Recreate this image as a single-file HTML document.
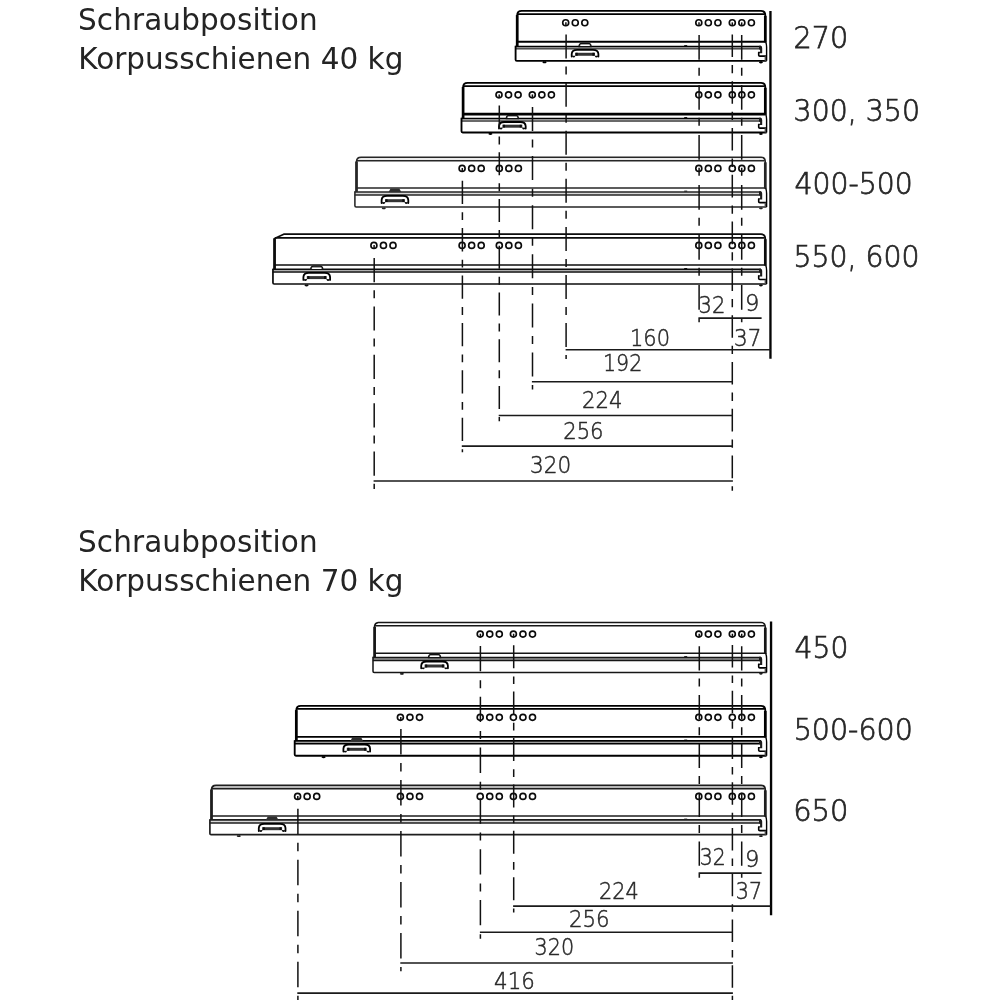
<!DOCTYPE html>
<html lang="de">
<head>
<meta charset="utf-8">
<title>Schraubposition Korpusschienen</title>
<style>
html,body{margin:0;padding:0;background:#fff;}
body{width:1000px;height:1000px;overflow:hidden;}
svg{display:block;will-change:transform;filter:grayscale(1);}
.o{fill:none;stroke-linejoin:round;}
.ot{fill:none;stroke-width:2.7;}
.i{fill:none;}
.i2{fill:none;stroke:#333;stroke-width:1;}
.h{fill:none;stroke:#000;stroke-width:1.6;stroke-linejoin:round;}
.h2{fill:none;stroke:#444;stroke-width:1.6;}
.lt{fill:none;stroke:#111;stroke-width:1.1;}
.la{fill:#fff;stroke:#000;stroke-width:1.8;stroke-linejoin:round;stroke-linecap:round;}
.c{fill:#fff;stroke:#0a0a0a;stroke-width:1.65;}
.ct{fill:none;stroke:#111;stroke-width:1.5;}
.d{fill:none;stroke:#111;stroke-width:1.5;}
.m{fill:none;stroke:#1a1a1a;stroke-width:1.55;}
.v{fill:none;stroke:#050505;stroke-width:2.35;}
.t{font-family:"DejaVu Sans","Liberation Sans",sans-serif;font-size:29.5px;fill:#242424;}
.l{font-family:"DejaVu Sans Light","DejaVu Sans","Liberation Sans",sans-serif;font-weight:200;font-size:30.6px;fill:#262626;stroke:#262626;stroke-width:0.75;}
.n{font-family:"DejaVu Sans Light","DejaVu Sans","Liberation Sans",sans-serif;font-weight:200;font-size:22.2px;fill:#2a2a2a;stroke:#2a2a2a;stroke-width:0.5;}
</style>
</head>
<body>
<svg width="1000" height="1000" viewBox="0 0 1000 1000">
<rect width="1000" height="1000" fill="#fff"/>

<text class="t" x="78.0" y="29.6" textLength="239.6" lengthAdjust="spacing">Schraubposition</text>
<text class="t" x="78.3" y="68.8" textLength="325.1" lengthAdjust="spacing">Korpusschienen 40 kg</text>
<text class="t" x="78.0" y="551.8" textLength="239.6" lengthAdjust="spacing">Schraubposition</text>
<text class="t" x="78.3" y="591.2" textLength="325.1" lengthAdjust="spacing">Korpusschienen 70 kg</text>
<g id="r270" stroke="#000" stroke-width="1.85">
<path class="o" d="M517.2,46.47 V15.27 Q517.2,10.87 521.8,10.87 H761.1 Q765.3,10.87 765.3,15.47 V41.77"/>
<path class="ot" d="M517.2,15.07 V46.47"/>
<path class="ot" d="M765.3,15.87 V42.37"/>
<path class="i" d="M517.7,14.07 H764.8"/>
<path class="i" d="M517.2,41.77 H765.3"/>
<rect x="515.6" y="46.47" width="245.6" height="2.5" fill="#8c8c8c" stroke="none"/>
<path class="i" d="M515.4,46.47 H761" style="stroke-width:1.3"/>
<path class="i" d="M515.4,48.97 H760.8" style="stroke-width:1.2;stroke:#3a3a3a"/>
<path class="o" d="M515.6,45.87 V59.67 Q515.6,60.87 516.8,60.87 H766.6"/>
<path d="M759,45.87 H760.5 Q762.2,45.87 762.2,47.97 V53.17 H758 V51.87 H760.1 V49.57 H759z" fill="#1c1c1c" stroke="none"/>
<path class="h" d="M758.7,52.27 V55.27 Q758.7,56.17 759.9,56.17 H766.2"/>
<rect x="764.6" y="56.27" width="2" height="4.6" fill="#555" stroke="none"/>
<path class="h" d="M765.7,41.77 Q766.6,44.27 766.6,47.27 V60.87" style="stroke-width:1.4"/>
<path class="o" d="M759.5,61.77 q1.4,1.3 2.9,0"/>
<path class="o" d="M542.9,61.77 q1.6,1.3 3.2,0"/>
<path class="i" d="M684.2,45.77 h3" style="stroke-width:1.2"/>
<path d="M578.95,46.67 q0,-3.3 3,-3.3 h6.2 q3,0 3,3.3z" fill="#4c4c4c" stroke="#111" stroke-width="1.2"/>
<rect x="580.15" y="44.57" width="9.8" height="1.5" rx="0.7" fill="#fff" stroke="none"/>
<path d="M579.05,49.47 Q585.05,53.17 591.05,49.47z" fill="#1a1a1a" stroke="none"/>
<path class="la" d="M571.7,56.57 V54.07 Q571.9,49.87 577.1,49.87 H593 Q598.2,49.87 598.4,54.07 V56.57"/>
<rect x="575.1" y="52.77" width="19.9" height="3" fill="#333" stroke="none"/>
<path d="M571.9,55.87 q0.2,1.7 1.7,1.7 q1.3,0 1.7,-1.5 l0.4,-0.9 v-2.4 h2 v2.9 h-2.4z M598.2,55.87 q-0.2,1.7 -1.7,1.7 q-1.3,0 -1.7,-1.5 l-0.4,-0.9 v-2.4 h-2 v2.9 h2.4z" fill="#0a0a0a" stroke="none"/>
<circle class="c" cx="565.7" cy="22.77" r="3.0"/>
<circle class="c" cx="575.25" cy="22.77" r="3.0"/>
<circle class="c" cx="584.8" cy="22.77" r="3.0"/>
<circle class="c" cx="698.8" cy="22.77" r="3.0"/>
<circle class="c" cx="708.35" cy="22.77" r="3.0"/>
<circle class="c" cx="717.9" cy="22.77" r="3.0"/>
<circle class="c" cx="732.3" cy="22.77" r="3.0"/>
<circle class="c" cx="741.85" cy="22.77" r="3.0"/>
<circle class="c" cx="751.4" cy="22.77" r="3.0"/>
<path class="ct" d="M565.9,22.37 V25.57"/>
<path class="ct" d="M699,22.37 V25.57"/>
<path class="ct" d="M732.3,22.37 V25.57"/>
<path class="ct" d="M741.7,22.37 V25.57"/>
</g>
<g id="r300" stroke="#000" stroke-width="1.85">
<path class="o" d="M463.1,118.4 V87.2 Q463.1,82.8 467.7,82.8 H761.1 Q765.3,82.8 765.3,87.4 V114.1"/>
<path class="ot" d="M463.1,87 V118.4"/>
<path class="ot" d="M765.3,87.8 V114.7"/>
<path class="i" d="M463.6,86.05 H764.8"/>
<path class="i" d="M463.1,114.1 H765.3" style="stroke-width:2.9"/>
<rect x="461.5" y="118.4" width="299.7" height="2.7" fill="#9a9a9a" stroke="none"/>
<path class="i" d="M461.3,118.4 H761" style="stroke-width:1.3"/>
<path class="i" d="M461.3,121.1 H760.8" style="stroke-width:1.2;stroke:#3a3a3a"/>
<path class="o" d="M461.5,117.8 V131.3 Q461.5,132.5 462.7,132.5 H766.6"/>
<path d="M759,117.8 H760.5 Q762.2,117.8 762.2,119.9 V125.1 H758 V123.8 H760.1 V121.7 H759z" fill="#1c1c1c" stroke="none"/>
<path class="h" d="M758.7,124.2 V127.2 Q758.7,128.1 759.9,128.1 H766.2"/>
<rect x="764.6" y="128.2" width="2" height="4.3" fill="#555" stroke="none"/>
<path class="h" d="M765.7,114.1 Q766.6,116.6 766.6,119.6 V132.5" style="stroke-width:1.4"/>
<path class="o" d="M759.5,133.4 q1.4,1.3 2.9,0"/>
<path class="o" d="M488.8,133.4 q1.6,1.3 3.2,0"/>
<path class="i" d="M684.2,117.7 h3" style="stroke-width:1.2"/>
<path d="M506.25,118.6 q0,-3.3 3,-3.3 h6.2 q3,0 3,3.3z" fill="#4c4c4c" stroke="#111" stroke-width="1.2"/>
<rect x="507.45" y="116.5" width="9.8" height="1.5" rx="0.7" fill="#fff" stroke="none"/>
<path d="M506.35,121.6 Q512.35,125.3 518.35,121.6z" fill="#1a1a1a" stroke="none"/>
<path class="la" d="M499,128.5 V126.2 Q499.2,122 504.4,122 H520.3 Q525.5,122 525.7,126.2 V128.5"/>
<rect x="502.4" y="124.7" width="19.9" height="3" fill="#333" stroke="none"/>
<path d="M499.2,127.8 q0.2,1.7 1.7,1.7 q1.3,0 1.7,-1.5 l0.4,-0.9 v-2.4 h2 v2.9 h-2.4z M525.5,127.8 q-0.2,1.7 -1.7,1.7 q-1.3,0 -1.7,-1.5 l-0.4,-0.9 v-2.4 h-2 v2.9 h2.4z" fill="#0a0a0a" stroke="none"/>
<circle class="c" cx="499" cy="94.8" r="3.0"/>
<circle class="c" cx="508.55" cy="94.8" r="3.0"/>
<circle class="c" cx="518.1" cy="94.8" r="3.0"/>
<circle class="c" cx="532.3" cy="94.8" r="3.0"/>
<circle class="c" cx="541.85" cy="94.8" r="3.0"/>
<circle class="c" cx="551.4" cy="94.8" r="3.0"/>
<circle class="c" cx="698.8" cy="94.8" r="3.0"/>
<circle class="c" cx="708.35" cy="94.8" r="3.0"/>
<circle class="c" cx="717.9" cy="94.8" r="3.0"/>
<circle class="c" cx="732.3" cy="94.8" r="3.0"/>
<circle class="c" cx="741.85" cy="94.8" r="3.0"/>
<circle class="c" cx="751.4" cy="94.8" r="3.0"/>
<path class="ct" d="M499.2,94.4 V97.6"/>
<path class="ct" d="M532.4,94.4 V97.6"/>
</g>
<g id="r400" stroke="#262626" stroke-width="1.55">
<path d="M357.5,159 H764.3" stroke="#e4e4e4" stroke-width="1.6" fill="none"/>
<path class="o" d="M356.5,191.9 V161.7 Q356.5,157.3 361.1,157.3 H761.1 Q765.3,157.3 765.3,161.9 V188"/>
<path class="ot" d="M356.5,161.5 V191.9"/>
<path class="ot" d="M765.3,162.3 V188.6"/>
<path class="i" d="M357,160.7 H764.8"/>
<path class="i" d="M356.5,188 H765.3"/>
<rect x="354.9" y="191.9" width="406.3" height="3.1" fill="#d8d8d8" stroke="none"/>
<path class="i" d="M354.7,191.9 H761"/>
<path class="i" d="M354.7,195 H760.8"/>
<path class="o" d="M354.9,191.3 V205.8 Q354.9,207 356.1,207 H766.6"/>
<path d="M759,191.3 H760.5 Q762.2,191.3 762.2,193.4 V199.6 H758 V198.3 H760.1 V195.6 H759z" fill="#1c1c1c" stroke="none"/>
<path class="h" d="M758.7,198.7 V201.7 Q758.7,202.6 759.9,202.6 H766.2"/>
<rect x="764.6" y="202.7" width="2" height="4.3" fill="#555" stroke="none"/>
<path class="h" d="M765.7,188 Q766.6,190.5 766.6,193.5 V207" style="stroke-width:1.4"/>
<path class="o" d="M759.5,207.9 q1.4,1.3 2.9,0"/>
<path class="o" d="M382.2,207.9 q1.6,1.3 3.2,0"/>
<path class="i" d="M684.2,191.2 h3" style="stroke-width:1.2"/>
<path d="M388.65,191.9 L390.55,188.5 H399.35 L401.25,191.9z" fill="#2e2e2e" stroke="none"/>
<path d="M388.95,195.5 Q394.95,199.2 400.95,195.5z" fill="#1a1a1a" stroke="none"/>
<path class="la" d="M381.6,203 V200.1 Q381.8,195.9 387,195.9 H402.9 Q408.1,195.9 408.3,200.1 V203"/>
<rect x="385" y="199.2" width="19.9" height="3" fill="#333" stroke="none"/>
<path d="M381.8,202.3 q0.2,1.7 1.7,1.7 q1.3,0 1.7,-1.5 l0.4,-0.9 v-2.4 h2 v2.9 h-2.4z M408.1,202.3 q-0.2,1.7 -1.7,1.7 q-1.3,0 -1.7,-1.5 l-0.4,-0.9 v-2.4 h-2 v2.9 h2.4z" fill="#0a0a0a" stroke="none"/>
<circle class="c" cx="462.1" cy="168.4" r="3.0"/>
<circle class="c" cx="471.65" cy="168.4" r="3.0"/>
<circle class="c" cx="481.2" cy="168.4" r="3.0"/>
<circle class="c" cx="499.3" cy="168.4" r="3.0"/>
<circle class="c" cx="508.85" cy="168.4" r="3.0"/>
<circle class="c" cx="518.4" cy="168.4" r="3.0"/>
<circle class="c" cx="698.8" cy="168.4" r="3.0"/>
<circle class="c" cx="708.35" cy="168.4" r="3.0"/>
<circle class="c" cx="717.9" cy="168.4" r="3.0"/>
<circle class="c" cx="732.3" cy="168.4" r="3.0"/>
<circle class="c" cx="741.85" cy="168.4" r="3.0"/>
<circle class="c" cx="751.4" cy="168.4" r="3.0"/>
<path class="ct" d="M462.3,168 V171.2"/>
</g>
<g id="r550" stroke="#0c0c0c" stroke-width="1.72">
<path class="o" d="M274.55,269.3 V238.5 L283.75,234.2 H761.1 Q765.3,234.2 765.3,238.8 V265"/>
<path class="ot" d="M274.55,238.4 V269.3"/>
<path class="ot" d="M765.3,239.2 V265.6"/>
<path class="i" d="M275.05,237.9 H764.8"/>
<path class="i" d="M274.55,265 H765.3"/>
<rect x="272.95" y="269.3" width="488.25" height="2.7" fill="#e4e4e4" stroke="none"/>
<path class="i" d="M272.75,269.3 H761"/>
<path class="i" d="M272.75,272 H760.8"/>
<path class="o" d="M272.95,268.7 V282.8 Q272.95,284 274.15,284 H766.6"/>
<path d="M759,268.7 H760.5 Q762.2,268.7 762.2,270.8 V276.5 H758 V275.2 H760.1 V272.6 H759z" fill="#1c1c1c" stroke="none"/>
<path class="h" d="M758.7,275.6 V278.6 Q758.7,279.5 759.9,279.5 H766.2"/>
<rect x="764.6" y="279.6" width="2" height="4.4" fill="#555" stroke="none"/>
<path class="h" d="M765.7,265 Q766.6,267.5 766.6,270.5 V284" style="stroke-width:1.4"/>
<path class="o" d="M759.5,284.9 q1.4,1.3 2.9,0"/>
<path class="o" d="M304.95,284.9 q1.6,1.3 3.2,0"/>
<path class="i" d="M684.2,268.6 h3" style="stroke-width:1.2"/>
<path d="M310.65,269.5 q0,-3.3 3,-3.3 h6.2 q3,0 3,3.3z" fill="#4c4c4c" stroke="#111" stroke-width="1.2"/>
<rect x="311.85" y="267.4" width="9.8" height="1.5" rx="0.7" fill="#fff" stroke="none"/>
<path d="M310.75,272.5 Q316.75,276.2 322.75,272.5z" fill="#1a1a1a" stroke="none"/>
<path class="la" d="M303.4,279.9 V277.1 Q303.6,272.9 308.8,272.9 H324.7 Q329.9,272.9 330.1,277.1 V279.9"/>
<rect x="306.8" y="276.1" width="19.9" height="3" fill="#333" stroke="none"/>
<path d="M303.6,279.2 q0.2,1.7 1.7,1.7 q1.3,0 1.7,-1.5 l0.4,-0.9 v-2.4 h2 v2.9 h-2.4z M329.9,279.2 q-0.2,1.7 -1.7,1.7 q-1.3,0 -1.7,-1.5 l-0.4,-0.9 v-2.4 h-2 v2.9 h2.4z" fill="#0a0a0a" stroke="none"/>
<circle class="c" cx="373.9" cy="245.4" r="3.0"/>
<circle class="c" cx="383.45" cy="245.4" r="3.0"/>
<circle class="c" cx="393" cy="245.4" r="3.0"/>
<circle class="c" cx="462.1" cy="245.4" r="3.0"/>
<circle class="c" cx="471.65" cy="245.4" r="3.0"/>
<circle class="c" cx="481.2" cy="245.4" r="3.0"/>
<circle class="c" cx="499.3" cy="245.4" r="3.0"/>
<circle class="c" cx="508.85" cy="245.4" r="3.0"/>
<circle class="c" cx="518.4" cy="245.4" r="3.0"/>
<circle class="c" cx="698.8" cy="245.4" r="3.0"/>
<circle class="c" cx="708.35" cy="245.4" r="3.0"/>
<circle class="c" cx="717.9" cy="245.4" r="3.0"/>
<circle class="c" cx="732.3" cy="245.4" r="3.0"/>
<circle class="c" cx="741.85" cy="245.4" r="3.0"/>
<circle class="c" cx="751.4" cy="245.4" r="3.0"/>
<path class="ct" d="M374.1,245 V248.2"/>
</g>
<g id="r450" stroke="#161616" stroke-width="1.52">
<path class="o" d="M374.6,657.4 V625.8 Q375,623.2 378.2,622.6 H761.1 Q765.3,622.6 765.3,627.2 V653.3"/>
<path class="ot" d="M374.6,626.8 V657.4"/>
<path class="ot" d="M765.3,627.6 V653.9"/>
<path class="i" d="M375.1,625.75 H764.8"/>
<path class="i" d="M374.6,653.3 H765.3"/>
<rect x="373" y="657.4" width="388.2" height="3.2" fill="#9a9a9a" stroke="none"/>
<path class="i" d="M372.8,657.4 H761"/>
<path class="i" d="M372.8,660.6 H760.8"/>
<path class="o" d="M373,656.8 V671.2 Q373,672.4 374.2,672.4 H766.6"/>
<path d="M759,656.8 H760.5 Q762.2,656.8 762.2,658.9 V664.9 H758 V663.6 H760.1 V661.2 H759z" fill="#1c1c1c" stroke="none"/>
<path class="h" d="M758.7,664 V667 Q758.7,667.9 759.9,667.9 H766.2"/>
<rect x="764.6" y="668" width="2" height="4.4" fill="#555" stroke="none"/>
<path class="h" d="M765.7,653.3 Q766.6,655.8 766.6,658.8 V672.4" style="stroke-width:1.4"/>
<path class="o" d="M759.5,673.3 q1.4,1.3 2.9,0"/>
<path class="o" d="M400.3,673.3 q1.6,1.3 3.2,0"/>
<path class="i" d="M684.2,656.7 h3" style="stroke-width:1.2"/>
<path d="M428.45,657.6 q0,-3.3 3,-3.3 h6.2 q3,0 3,3.3z" fill="#4c4c4c" stroke="#111" stroke-width="1.2"/>
<rect x="429.65" y="655.5" width="9.8" height="1.5" rx="0.7" fill="#fff" stroke="none"/>
<path d="M428.55,661.1 Q434.55,664.8 440.55,661.1z" fill="#1a1a1a" stroke="none"/>
<path class="la" d="M421.2,668.3 V665.7 Q421.4,661.5 426.6,661.5 H442.5 Q447.7,661.5 447.9,665.7 V668.3"/>
<rect x="424.6" y="664.5" width="19.9" height="3" fill="#333" stroke="none"/>
<path d="M421.4,667.6 q0.2,1.7 1.7,1.7 q1.3,0 1.7,-1.5 l0.4,-0.9 v-2.4 h2 v2.9 h-2.4z M447.7,667.6 q-0.2,1.7 -1.7,1.7 q-1.3,0 -1.7,-1.5 l-0.4,-0.9 v-2.4 h-2 v2.9 h2.4z" fill="#0a0a0a" stroke="none"/>
<circle class="c" cx="480.2" cy="634.1" r="3.0"/>
<circle class="c" cx="489.75" cy="634.1" r="3.0"/>
<circle class="c" cx="499.3" cy="634.1" r="3.0"/>
<circle class="c" cx="513.4" cy="634.1" r="3.0"/>
<circle class="c" cx="522.95" cy="634.1" r="3.0"/>
<circle class="c" cx="532.5" cy="634.1" r="3.0"/>
<circle class="c" cx="698.8" cy="634.1" r="3.0"/>
<circle class="c" cx="708.35" cy="634.1" r="3.0"/>
<circle class="c" cx="717.9" cy="634.1" r="3.0"/>
<circle class="c" cx="732.3" cy="634.1" r="3.0"/>
<circle class="c" cx="741.85" cy="634.1" r="3.0"/>
<circle class="c" cx="751.4" cy="634.1" r="3.0"/>
<path class="ct" d="M480.4,633.7 V636.9"/>
<path class="ct" d="M513.6,633.7 V636.9"/>
<path class="ct" d="M699.2,633.7 V636.9"/>
<path class="ct" d="M732.4,633.7 V636.9"/>
<path class="ct" d="M741.7,633.7 V636.9"/>
</g>
<g id="r500" stroke="#000" stroke-width="1.85">
<path class="o" d="M296.3,740.9 V710.3 Q296.3,705.9 300.9,705.9 H761.1 Q765.3,705.9 765.3,710.5 V736.8"/>
<path class="ot" d="M296.3,710.1 V740.9"/>
<path class="ot" d="M765.3,710.9 V737.4"/>
<path class="i" d="M296.8,708.9 H764.8"/>
<path class="i" d="M296.3,736.8 H765.3"/>
<rect x="294.7" y="740.9" width="466.5" height="2.7" fill="#cfcfcf" stroke="none"/>
<path class="i" d="M294.5,740.9 H761"/>
<path class="i" d="M294.5,743.6 H760.8"/>
<path class="o" d="M294.7,740.3 V754.5 Q294.7,755.7 295.9,755.7 H766.6"/>
<path d="M759,740.3 H760.5 Q762.2,740.3 762.2,742.4 V748.2 H758 V746.9 H760.1 V744.2 H759z" fill="#1c1c1c" stroke="none"/>
<path class="h" d="M758.7,747.3 V750.3 Q758.7,751.2 759.9,751.2 H766.2"/>
<rect x="764.6" y="751.3" width="2" height="4.4" fill="#555" stroke="none"/>
<path class="h" d="M765.7,736.8 Q766.6,739.3 766.6,742.3 V755.7" style="stroke-width:1.4"/>
<path class="o" d="M759.5,756.6 q1.4,1.3 2.9,0"/>
<path class="o" d="M322,756.6 q1.6,1.3 3.2,0"/>
<path class="i" d="M684.2,740.2 h3" style="stroke-width:1.2"/>
<path d="M350.45,740.9 L352.35,737.3 H361.15 L363.05,740.9z" fill="#2e2e2e" stroke="none"/>
<path d="M350.75,744.1 Q356.75,747.8 362.75,744.1z" fill="#1a1a1a" stroke="none"/>
<path class="la" d="M343.4,751.6 V748.7 Q343.6,744.5 348.8,744.5 H364.7 Q369.9,744.5 370.1,748.7 V751.6"/>
<rect x="346.8" y="747.8" width="19.9" height="3" fill="#333" stroke="none"/>
<path d="M343.6,750.9 q0.2,1.7 1.7,1.7 q1.3,0 1.7,-1.5 l0.4,-0.9 v-2.4 h2 v2.9 h-2.4z M369.9,750.9 q-0.2,1.7 -1.7,1.7 q-1.3,0 -1.7,-1.5 l-0.4,-0.9 v-2.4 h-2 v2.9 h2.4z" fill="#0a0a0a" stroke="none"/>
<circle class="c" cx="400.4" cy="717.3" r="3.0"/>
<circle class="c" cx="409.95" cy="717.3" r="3.0"/>
<circle class="c" cx="419.5" cy="717.3" r="3.0"/>
<circle class="c" cx="480.2" cy="717.3" r="3.0"/>
<circle class="c" cx="489.75" cy="717.3" r="3.0"/>
<circle class="c" cx="499.3" cy="717.3" r="3.0"/>
<circle class="c" cx="513.4" cy="717.3" r="3.0"/>
<circle class="c" cx="522.95" cy="717.3" r="3.0"/>
<circle class="c" cx="532.5" cy="717.3" r="3.0"/>
<circle class="c" cx="698.8" cy="717.3" r="3.0"/>
<circle class="c" cx="708.35" cy="717.3" r="3.0"/>
<circle class="c" cx="717.9" cy="717.3" r="3.0"/>
<circle class="c" cx="732.3" cy="717.3" r="3.0"/>
<circle class="c" cx="741.85" cy="717.3" r="3.0"/>
<circle class="c" cx="751.4" cy="717.3" r="3.0"/>
<path class="ct" d="M400.8,716.9 V720.1"/>
</g>
<g id="r650" stroke="#1e1e1e" stroke-width="1.67">
<path d="M212.5,787 H764.3" stroke="#e4e4e4" stroke-width="1.6" fill="none"/>
<path class="o" d="M211.5,819.9 V789.7 Q211.5,785.3 216.1,785.3 H761.1 Q765.3,785.3 765.3,789.9 V816"/>
<path class="ot" d="M211.5,789.5 V819.9"/>
<path class="ot" d="M765.3,790.3 V816.6"/>
<path class="i" d="M212,788.7 H764.8"/>
<path class="i" d="M211.5,816 H765.3"/>
<rect x="209.9" y="819.9" width="551.3" height="3.1" fill="#d8d8d8" stroke="none"/>
<path class="i" d="M209.7,819.9 H761"/>
<path class="i" d="M209.7,823 H760.8"/>
<path class="o" d="M209.9,819.3 V833.5 Q209.9,834.7 211.1,834.7 H766.6"/>
<path d="M759,819.3 H760.5 Q762.2,819.3 762.2,821.4 V827.6 H758 V826.3 H760.1 V823.6 H759z" fill="#1c1c1c" stroke="none"/>
<path class="h" d="M758.7,826.7 V829.7 Q758.7,830.6 759.9,830.6 H766.2"/>
<rect x="764.6" y="830.7" width="2" height="4" fill="#555" stroke="none"/>
<path class="h" d="M765.7,816 Q766.6,818.5 766.6,821.5 V834.7" style="stroke-width:1.4"/>
<path class="o" d="M759.5,835.6 q1.4,1.3 2.9,0"/>
<path class="o" d="M237.2,835.6 q1.6,1.3 3.2,0"/>
<path class="i" d="M684.2,819.2 h3" style="stroke-width:1.2"/>
<path d="M265.85,819.9 L267.75,816.5 H276.55 L278.45,819.9z" fill="#2e2e2e" stroke="none"/>
<path d="M266.15,823.5 Q272.15,827.2 278.15,823.5z" fill="#1a1a1a" stroke="none"/>
<path class="la" d="M258.8,831 V828.1 Q259,823.9 264.2,823.9 H280.1 Q285.3,823.9 285.5,828.1 V831"/>
<rect x="262.2" y="827.2" width="19.9" height="3" fill="#333" stroke="none"/>
<path d="M259,830.3 q0.2,1.7 1.7,1.7 q1.3,0 1.7,-1.5 l0.4,-0.9 v-2.4 h2 v2.9 h-2.4z M285.3,830.3 q-0.2,1.7 -1.7,1.7 q-1.3,0 -1.7,-1.5 l-0.4,-0.9 v-2.4 h-2 v2.9 h2.4z" fill="#0a0a0a" stroke="none"/>
<circle class="c" cx="297.6" cy="796.4" r="3.0"/>
<circle class="c" cx="307.15" cy="796.4" r="3.0"/>
<circle class="c" cx="316.7" cy="796.4" r="3.0"/>
<circle class="c" cx="400.4" cy="796.4" r="3.0"/>
<circle class="c" cx="409.95" cy="796.4" r="3.0"/>
<circle class="c" cx="419.5" cy="796.4" r="3.0"/>
<circle class="c" cx="480.2" cy="796.4" r="3.0"/>
<circle class="c" cx="489.75" cy="796.4" r="3.0"/>
<circle class="c" cx="499.3" cy="796.4" r="3.0"/>
<circle class="c" cx="513.4" cy="796.4" r="3.0"/>
<circle class="c" cx="522.95" cy="796.4" r="3.0"/>
<circle class="c" cx="532.5" cy="796.4" r="3.0"/>
<circle class="c" cx="698.8" cy="796.4" r="3.0"/>
<circle class="c" cx="708.35" cy="796.4" r="3.0"/>
<circle class="c" cx="717.9" cy="796.4" r="3.0"/>
<circle class="c" cx="732.3" cy="796.4" r="3.0"/>
<circle class="c" cx="741.85" cy="796.4" r="3.0"/>
<circle class="c" cx="751.4" cy="796.4" r="3.0"/>
<path class="ct" d="M297.8,796 V799.2"/>
</g>
<path class="d" d="M566.1,34.6 V359" stroke-dasharray="24 8 8 8.08"/>
<path class="d" d="M532.5,107 V389.6" stroke-dasharray="24 8.6 8 8.5"/>
<path class="d" d="M499.3,105.6 V421.2" stroke-dasharray="23 8 8 7.72"/>
<path class="d" d="M462.4,180.7 V452.2" stroke-dasharray="23.3 8.3 7.8 8"/>
<path class="d" d="M374.2,258 V489" stroke-dasharray="24.2 8 8 8.2"/>
<path class="d" d="M699.1,35 V309.8" stroke-dasharray="24.8 8 8 9.2"/>
<path class="d" d="M741.7,35 V310.2" stroke-dasharray="24.8 8 8 9.2"/>
<path class="d" d="M732.3,34.4 V490.8" stroke-dasharray="22.6 8 8.3 7.9"/>
<path class="d" d="M513.7,645.2 V912.6" stroke-dasharray="23 8.2 7.7 7.5"/>
<path class="d" d="M480.4,646 V938.8" stroke-dasharray="25.3 8.9 8 8.6"/>
<path class="d" d="M400.9,728.9 V971.2" stroke-dasharray="25.5 8.5 8.5 8.5"/>
<path class="d" d="M297.9,808.7 V1000" stroke-dasharray="25.6 8.5 8.5 8.4"/>
<path class="d" d="M699.3,646.2 V865.8" stroke-dasharray="24.2 8 8 8.65"/>
<path class="d" d="M741.7,646.2 V865.8" stroke-dasharray="24.2 8 8 8.65"/>
<path class="d" d="M732.4,645 V1000" stroke-dasharray="22.4 8 7.5 7.85"/>
<path class="v" d="M770.45,11 V358.8"/>
<path class="m" d="M698.5,318.1 H761.6 M699.1,317.6 V322.3 M741.7,317.6 V322.3"/>
<path class="m" d="M565.6,349.8 H770.5"/>
<path class="m" d="M531.9,381.8 H732.9"/>
<path class="m" d="M498.7,415.5 H732.9"/>
<path class="m" d="M461.8,446.1 H732.9"/>
<path class="m" d="M373.6,481.0 H732.9"/>
<path class="v" d="M771.05,621.6 V915.3"/>
<path class="m" d="M698.7,873.1 H761.6 M699.3,872.6 V877.7 M741.7,872.6 V877.7"/>
<path class="m" d="M513.1,906.1 H770.5"/>
<path class="m" d="M479.9,932.3 H732.9"/>
<path class="m" d="M400.3,963.0 H732.9"/>
<path class="m" d="M297.3,993.1 H732.9"/>
<text class="l" x="793.6" y="47.8" textLength="54.8" lengthAdjust="spacingAndGlyphs">270</text>
<text class="l" x="793.6" y="120.5" textLength="126.4" lengthAdjust="spacingAndGlyphs">300, 350</text>
<text class="l" x="794.6" y="194" textLength="118.2" lengthAdjust="spacingAndGlyphs">400-500</text>
<text class="l" x="793.4" y="266.9" textLength="126.2" lengthAdjust="spacingAndGlyphs">550, 600</text>
<text class="l" x="794.6" y="657.7" textLength="53.8" lengthAdjust="spacingAndGlyphs">450</text>
<text class="l" x="793.7" y="740.1" textLength="119.1" lengthAdjust="spacingAndGlyphs">500-600</text>
<text class="l" x="793.2" y="821.1" textLength="55.2" lengthAdjust="spacingAndGlyphs">650</text>
<text class="n" x="698.6" y="313" textLength="26.8" lengthAdjust="spacingAndGlyphs">32</text>
<text class="n" x="745" y="310.8" textLength="14.4" lengthAdjust="spacingAndGlyphs">9</text>
<text class="n" x="734" y="345.5" textLength="27.4" lengthAdjust="spacingAndGlyphs">37</text>
<text class="n" x="630" y="345.8" textLength="40" lengthAdjust="spacingAndGlyphs">160</text>
<text class="n" x="603" y="371.2" textLength="39.2" lengthAdjust="spacingAndGlyphs">192</text>
<text class="n" x="582" y="408.1" textLength="40.4" lengthAdjust="spacingAndGlyphs">224</text>
<text class="n" x="563.2" y="439.4" textLength="40.4" lengthAdjust="spacingAndGlyphs">256</text>
<text class="n" x="530" y="472.6" textLength="41.2" lengthAdjust="spacingAndGlyphs">320</text>
<text class="n" x="699.8" y="864.9" textLength="26" lengthAdjust="spacingAndGlyphs">32</text>
<text class="n" x="745" y="867" textLength="14.4" lengthAdjust="spacingAndGlyphs">9</text>
<text class="n" x="735.8" y="898.5" textLength="26.4" lengthAdjust="spacingAndGlyphs">37</text>
<text class="n" x="599" y="899.4" textLength="39.8" lengthAdjust="spacingAndGlyphs">224</text>
<text class="n" x="569" y="927.2" textLength="40.6" lengthAdjust="spacingAndGlyphs">256</text>
<text class="n" x="534.6" y="955" textLength="39.6" lengthAdjust="spacingAndGlyphs">320</text>
<text class="n" x="494.1" y="989" textLength="40.8" lengthAdjust="spacingAndGlyphs">416</text>
</svg>
</body>
</html>
